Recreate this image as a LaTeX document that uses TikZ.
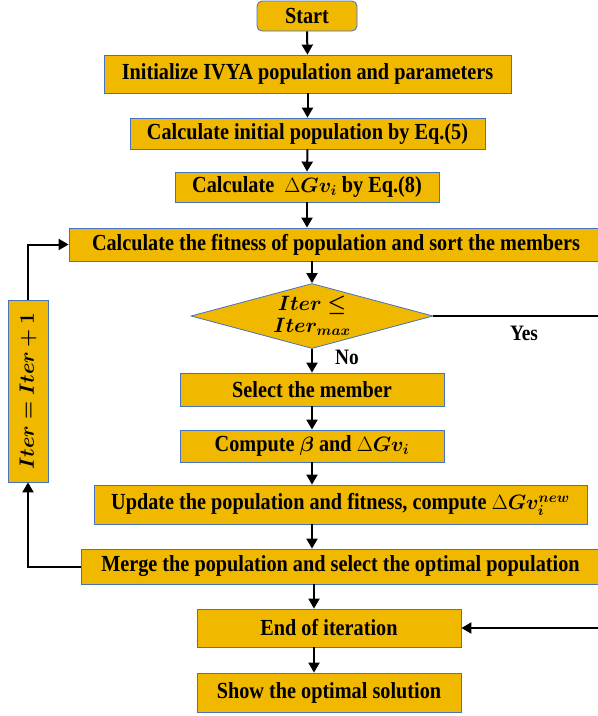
\documentclass[tikz,border=0pt]{standalone}
\usepackage{amsmath,amssymb,bm}
\usepackage{fontspec}
\setmainfont[FakeStretch=0.88]{Liberation Serif}
\usetikzlibrary{shapes.geometric,arrows.meta}
\definecolor{boxfill}{RGB}{241,184,0}
\definecolor{boxline}{RGB}{68,114,196}

\begin{document}
\begin{tikzpicture}[x=1pt,y=-1pt,
    box/.style={draw=boxline,line width=0.8pt,fill=boxfill,inner sep=0pt,
      font=\fontsize{23}{28}\selectfont\bfseries},
    arr/.style={line width=2pt,-{Triangle[length=10pt,width=11pt]}},
    lbl/.style={font=\fontsize{22}{26}\selectfont\bfseries}] %flowchart of IVYA
         \useasboundingbox (0,0) rectangle (598,716);
         \clip (0,0) rectangle (598,716);
         \node[box,rounded corners=5pt,minimum width=100pt,minimum height=30pt] (start) at (307,16) {Start};
         \node[box,minimum width=407pt,minimum height=38pt] (init) at (307.5,74) {Initialize IVYA population and parameters};
         \node[box,minimum width=355pt,minimum height=31pt] (calc) at (307.5,133.5) {Calculate initial population by Eq.(5)};
         \node[box,minimum width=264pt,minimum height=30pt] (dgv) at (307,187) {Calculate~~{\fontsize{21}{26}\selectfont$\Delta\bm{Gv}_{\bm{i}}$} by Eq.(8)};
         \node[box,minimum width=534pt,minimum height=33pt] (fit) at (336,244.5) {Calculate the fitness of population and sort the members};
         \node[box,diamond,aspect=3.7,minimum width=242pt,minimum height=65pt,align=center,
               font=\fontsize{21}{26}\selectfont] (dia) at (312,316)
                {$\bm{Iter\le}$\\[-4pt]$\bm{Iter_{max}}$};
         \node[box,minimum width=264pt,minimum height=33pt] (sel) at (312,389.5) {Select the member};
         \node[box,minimum width=264pt,minimum height=32pt] (comp) at (312,446) {Compute {\fontsize{21}{26}\selectfont$\bm{\beta}$} and {\fontsize{21}{26}\selectfont$\Delta\bm{Gv}_{\bm{i}}$}};
         \node[box,minimum width=493pt,minimum height=39pt] (upd) at (340.5,504.5) {Update the population and fitness, compute {\fontsize{21}{26}\selectfont$\Delta\bm{Gv}_{\bm{i}}^{\bm{new}}$}};
         \node[box,minimum width=519pt,minimum height=35pt] (mrg) at (340.5,566.5) {Merge the population and select the optimal population};
         \node[box,minimum width=264pt,minimum height=38pt] (endit) at (329,628) {End of iteration};
         \node[box,minimum width=264pt,minimum height=39pt] (show) at (329,692.5) {Show the optimal solution};
         \node[box,minimum width=40pt,minimum height=182pt,font=\fontsize{21}{26}\selectfont] (iter) at (28,391) {\rotatebox{90}{$\bm{Iter = Iter + 1}$}};
         \node[lbl] (yes) at (524,333) {Yes};
         \node[lbl] (no) at (347,357) {No};
         \coordinate (r1) at (620,316);
         \coordinate (r2) at (620,628);
         \draw[arr] (start.south) -- (init.north);
         \draw[arr] (init.south) -- (calc.north);
         \draw[arr] (calc.south) -- (dgv.north);
         \draw[arr] (dgv.south) -- (dgv.south |- fit.north);
         \draw[arr] (dia.north |- fit.south) -- (dia.north);
         \draw[arr] (dia.south) -- (sel.north);
         \draw[arr] (sel.south) -- (comp.north);
         \draw[arr] (comp.south) -- (comp.south |- upd.north);
         \draw[arr] (comp.south |- upd.south) -- (comp.south |- mrg.north);
         \draw[arr] ([xshift=2pt]comp.south |- mrg.south) -- ([xshift=2pt]comp.south |- endit.north);
         \draw[arr] ([xshift=2pt]comp.south |- endit.south) -- ([xshift=2pt]comp.south |- show.north);
         \draw[arr] (mrg.west) -| (iter.south);
         \draw[arr] (iter.north) |- (fit.west);
         \draw[arr] (dia.east) -- (r1) -- (r2) -- (endit.east);
    \end{tikzpicture}
\end{document}
